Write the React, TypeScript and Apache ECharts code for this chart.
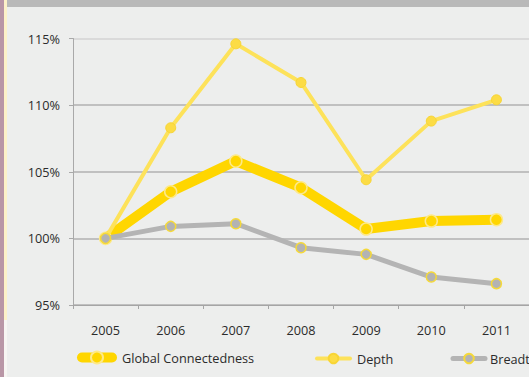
import React, { useEffect, useRef } from "react";
import * as echarts from "echarts";

const years = ["2005", "2006", "2007", "2008", "2009", "2010", "2011"];
const globalConnectedness = [100, 103.5, 105.8, 103.8, 100.7, 101.3, 101.4];
const depth = [100, 108.3, 114.6, 111.7, 104.4, 108.8, 110.4];
const breadth = [100, 100.9, 101.1, 99.3, 98.8, 97.1, 96.6];
const yTicks = [95, 100, 105, 110, 115];

const FONT = "'Open Sans', 'Noto Sans', sans-serif";
const FS = 12.7;
const TXT = "#2b2b2b";

export default function App() {
  const ref = useRef<HTMLDivElement>(null);
  useEffect(() => {
    if (!ref.current) return;
    const chart = echarts.init(ref.current, null, { renderer: "svg" });
    const legendText = (pad: number) => ({ color: TXT, fontSize: FS, fontFamily: FONT, padding: [0, 0, 0, pad] });
    chart.setOption({
      animation: false,
      backgroundColor: "#edeeed",
      textStyle: { fontFamily: FONT },
      graphic: [
        { type: "rect", shape: { x: 0, y: 0, width: 4, height: 377 }, style: { fill: "#b996a6" }, silent: true },
        { type: "rect", shape: { x: 4, y: 0, width: 3, height: 320 }, style: { fill: "#fdf1c8" }, silent: true },
        { type: "rect", shape: { x: 4, y: 320, width: 3, height: 57 }, style: { fill: "#f7f5f2" }, silent: true },
        { type: "rect", shape: { x: 7, y: 0, width: 522, height: 7 }, style: { fill: "#b9b9b9" }, silent: true },
      ],
      grid: { left: 73, top: 38.5, height: 266.5, width: 464, containLabel: false },
      xAxis: {
        type: "category",
        data: years,
        boundaryGap: true,
        axisLine: { lineStyle: { color: "#a5a5a5", width: 1 } },
        axisTick: { show: true, length: 4, lineStyle: { color: "#a5a5a5" } },
        axisLabel: { color: TXT, fontSize: FS, margin: 18, fontFamily: FONT },
      },
      yAxis: {
        type: "value",
        min: yTicks[0],
        max: yTicks[yTicks.length - 1],
        interval: 5,
        axisLine: { show: true, lineStyle: { color: "#a9a9a9", width: 1 } },
        axisTick: { show: true, length: 4, lineStyle: { color: "#a9a9a9" } },
        axisLabel: { color: TXT, fontSize: FS, margin: 13, fontFamily: FONT, formatter: (v: number) => v + "%" },
        splitLine: {
          show: true,
          lineStyle: { color: ["#b0b0b0", "#b0b0b0", "#b0b0b0", "#b0b0b0", "#d3d3d3"], width: 1.5 },
        },
      },
      legend: [
        {
          data: ["Global Connectedness"],
          left: 77,
          top: 350.5,
          padding: 0,
          itemWidth: 30,
          itemHeight: 15,
          lineStyle: { width: 10, cap: "round" },
          textStyle: legendText(5),
        },
        {
          data: ["Depth"],
          left: 315,
          top: 352,
          padding: 0,
          itemWidth: 33,
          itemHeight: 12,
          lineStyle: { width: 4, cap: "round" },
          textStyle: legendText(2),
        },
        {
          data: ["Breadth"],
          left: 450.5,
          top: 352,
          padding: 0,
          itemWidth: 32,
          itemHeight: 12,
          lineStyle: { width: 5, cap: "round" },
          textStyle: legendText(0),
        },
      ],
      series: [
        {
          name: "Global Connectedness",
          type: "line",
          data: globalConnectedness,
          symbol: "circle",
          symbolSize: 12,
          lineStyle: { color: "#ffd600", width: 10, cap: "round", join: "round" },
          itemStyle: { color: "#ffd600", borderColor: "#fde989", borderWidth: 1.5 },
          z: 2,
        },
        {
          name: "Depth",
          type: "line",
          data: depth,
          symbol: "circle",
          symbolSize: 10,
          lineStyle: { color: "#fde25a", width: 4, cap: "round", join: "round" },
          itemStyle: { color: "#fcdc45", borderColor: "#f8d535", borderWidth: 1 },
          z: 3,
        },
        {
          name: "Breadth",
          type: "line",
          data: breadth,
          symbol: "circle",
          symbolSize: 10,
          lineStyle: { color: "#b4b4b4", width: 5, cap: "round", join: "round" },
          itemStyle: { color: "#b3b3b3", borderColor: "#f5d93a", borderWidth: 1.5 },
          z: 4,
        },
      ],
    });
    return () => chart.dispose();
  }, []);
  return (
    <div
      ref={ref}
      style={{ position: "fixed", left: 0, top: 0, width: 529, height: 377 }}
    />
  );
}
